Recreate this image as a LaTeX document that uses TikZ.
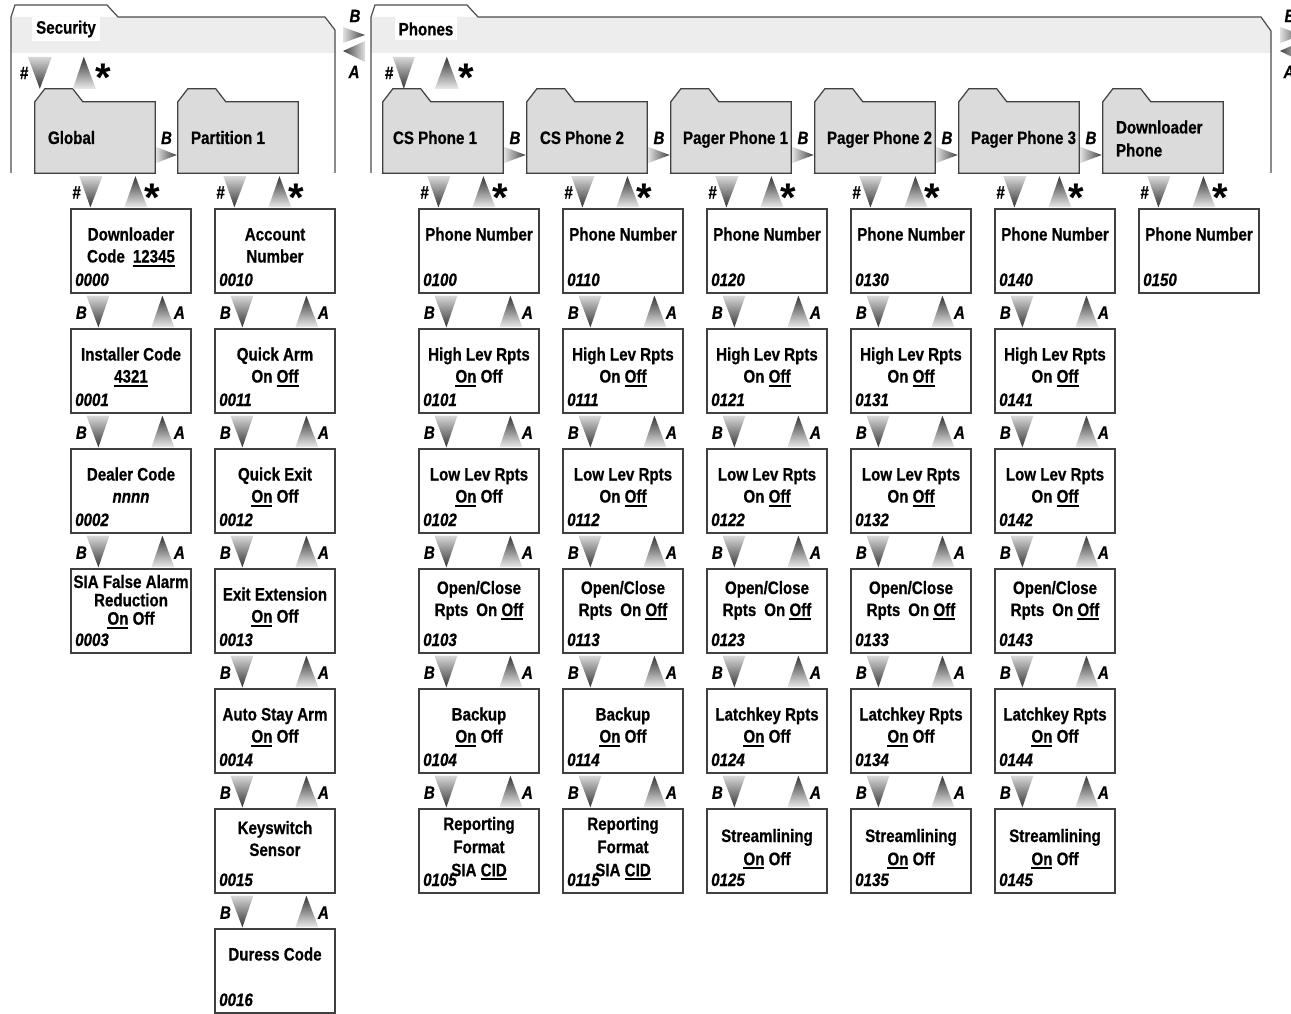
\documentclass[tikz,border=0pt]{standalone}
\usepackage{fontspec}
\setmainfont{Liberation Sans}[FakeStretch=0.84, FakeBold=0.6]
\newfontfamily\starfont{Liberation Sans}
\usetikzlibrary{calc}

% selected value, underlined
\newcommand{\sel}[1]{\setbox0=\hbox{#1}\rlap{\rule[-4pt]{\wd0}{1.8pt}}\box0\relax}
\newcommand{\gap}{\hspace{8pt}}

% menu box: name, left x, top y, first baseline, line stretch, lines, code
\newcommand{\menubox}[7]{%
  \node[menubox] (#1) at (#2+60,#3+42) {};
  \node[boxtext] (#1-t) at (#2+60,#3+#4) {\renewcommand{\arraystretch}{#5}\begin{tabular}[t]{@{}c@{}}#6\end{tabular}};
  \node[codetext] (#1-c) at (#2+4,#3+77) {#7};
}

% folder: name, left x
\newcommand{\folder}[2]{%
  \node[folderbody] (#1) at (#2+60,137.5) {};
  \filldraw[folderline] (#1.south west) -- (#1.north west) -- ++(10,-13) -- ++(28,0) -- ++(10,13) -- (#1.north east) -- (#1.south east) -- cycle;
}

% B down / A up between two stacked boxes
\newcommand{\linkBA}[2]{%
  \shade[downfill] ($(#1.south west)+(16,2)$) -- ($(#1.south west)+(39,2)$) -- ($(#2.north west)+(28,-1)$) -- cycle;
  \shade[upfill] ($(#2.north west)+(81,-1)$) -- ($(#2.north west)+(104,-1)$) -- ($(#1.south west)+(92,2)$) -- cycle;
  \node[arrlabel] (#1-B) at ($(#1.south west)+(11,19)$) {B};
  \node[arrlabel] (#1-A) at ($(#1.south west)+(109,19)$) {A};
}

% # down / * up between folder and its first box
\newcommand{\linkHS}[2]{%
  \shade[downfill] ($(#2.north west |- #1.south)+(9,3)$) -- ($(#2.north west |- #1.south)+(32,3)$) -- ($(#2.north west)+(20,-1)$) -- cycle;
  \shade[upfill] ($(#2.north west)+(54,-1)$) -- ($(#2.north west)+(77,-1)$) -- ($(#2.north west |- #1.south)+(65,3)$) -- cycle;
  \node[arrlabel] (#2-h) at ($(#2.north west)+(6,-16)$) {\#};
  \node[starlabel] (#2-s) at ($(#2.north west)+(82,3)$) {*};
}

% B to the next folder
\newcommand{\linkB}[2]{%
  \shade[rightfill] ($(#1.east)+(1,9.5)$) -- ($(#1.east)+(1,25.5)$) -- ($(#2.west)+(-1,17.5)$) -- cycle;
  \node[arrlabel] (#1-B) at ($(#1.east)!0.5!(#2.west)+(0,0.5)$) {B};
}

\begin{document}
\begin{tikzpicture}[x=1pt, y=-1pt,
  menubox/.style={draw=black!75, line width=1.2pt, minimum width=120pt, minimum height=84pt, inner sep=0pt},
  boxtext/.style={font=\fontsize{18}{22}\selectfont\bfseries, text=black, inner sep=0pt, anchor=base},
  codetext/.style={font=\fontsize{18}{22}\selectfont\bfseries\itshape, text=black, inner sep=0pt, anchor=base west},
  arrlabel/.style={font=\fontsize{18}{20}\selectfont\bfseries\itshape, text=black, inner sep=0pt},
  starlabel/.style={font=\starfont\fontsize{40}{40}\selectfont\bfseries, text=black, inner sep=0pt, anchor=base},
  downfill/.style={top color=black!15, bottom color=black!80},
  upfill/.style={top color=black!80, bottom color=black!8},
  rightfill/.style={left color=black!12, right color=black!75},
  leftfill/.style={left color=black!75, right color=black!12},
  folderbody/.style={minimum width=120pt, minimum height=71pt, inner sep=0pt},
  folderline/.style={draw=black!75, line width=1.2pt, fill=black!14},
  foldertext/.style={font=\fontsize{18}{23}\selectfont\bfseries, text=black, inner sep=0pt, anchor=base west},
  panelline/.style={draw=black!70, line width=1.2pt},
  bandfill/.style={fill=black!7},
  paneltext/.style={font=\fontsize{18}{22}\selectfont\bfseries, text=black, fill=white, inner xsep=4pt, minimum height=23pt}]

  \path[use as bounding box, fill=white] (0,0) rectangle (1291,1014);

  % Security panel
  \fill[bandfill] (11,17) -- (325,17) -- (335,30) -- (335,53) -- (11,53) -- cycle;
  \draw[panelline] (11,173) -- (11,17) -- (15,5) -- (107,5) -- (118,17) -- (325,17) -- (335,30) -- (335,173);
  \node[paneltext] (sec) at (66,29) {Security};

  % Phones panel
  \fill[bandfill] (371,17) -- (1261,17) -- (1271,31) -- (1271,53) -- (371,53) -- cycle;
  \draw[panelline] (371,173) -- (371,17) -- (375,5) -- (467,5) -- (478,17) -- (1261,17) -- (1271,31) -- (1271,173);
  \node[paneltext] (pho) at (426,29) {Phones};

  % B / A between panels
  \shade[rightfill] (343,27) -- (365,35) -- (343,43) -- cycle;
  \shade[leftfill] (365,41) -- (343,51) -- (365,62) -- cycle;
  \node[arrlabel] (secB) at (355,16) {B};
  \node[arrlabel] (secA) at (354,72) {A};
  \shade[rightfill] (1280,27) -- (1302,35) -- (1280,43) -- cycle;
  \shade[leftfill] (1302,41) -- (1280,51) -- (1302,62) -- cycle;
  \node[arrlabel] (phoB) at (1290,16) {B};
  \node[arrlabel] (phoA) at (1289,72) {A};

  % Folders
  \folder{glob}{35}
  \folder{part}{178}
  \folder{cs1}{383}
  \folder{cs2}{527}
  \folder{pg1}{671}
  \folder{pg2}{815}
  \folder{pg3}{959}
  \folder{dlp}{1103}
  \node[foldertext] (glob-t) at ($(glob.west)+(13,6.5)$) {Global};
  \node[foldertext] (part-t) at ($(part.west)+(13,6.5)$) {Partition 1};
  \node[foldertext] (cs1-t) at ($(cs1.west)+(10,6.5)$) {CS Phone 1};
  \node[foldertext] (cs2-t) at ($(cs2.west)+(13,6.5)$) {CS Phone 2};
  \node[foldertext] (pg1-t) at ($(pg1.west)+(12,6.5)$) {Pager Phone 1};
  \node[foldertext] (pg2-t) at ($(pg2.west)+(12,6.5)$) {Pager Phone 2};
  \node[foldertext] (pg3-t) at ($(pg3.west)+(12,6.5)$) {Pager Phone 3};
  \node[foldertext] (dlp-t) at ($(dlp.west)+(13,-4)$) {\begin{tabular}[t]{@{}l@{}}Downloader\\Phone\end{tabular}};

  % # and * from the panel bands
  \shade[downfill] ($(glob.north west)+(-7,-45)$) -- ($(glob.north west)+(17,-45)$) -- ($(glob.north west)+(5,-13)$) -- cycle;
  \shade[upfill] ($(glob.north west)+(38,-13)$) -- ($(glob.north west)+(61,-13)$) -- ($(glob.north west)+(49,-45)$) -- cycle;
  \node[arrlabel] (sec-h) at (24,73) {\#};
  \node[starlabel] (sec-s) at (103,92) {*};
  \shade[downfill] ($(cs1.north west)+(10,-45)$) -- ($(cs1.north west)+(32,-45)$) -- ($(cs1.north west)+(21,-13)$) -- cycle;
  \shade[upfill] ($(cs1.north west)+(52,-13)$) -- ($(cs1.north west)+(76,-13)$) -- ($(cs1.north west)+(64,-45)$) -- cycle;
  \node[arrlabel] (pho-h) at (389,73) {\#};
  \node[starlabel] (pho-s) at (466,92) {*};

  % Global
  \menubox{dlcode}{71}{209}{31.5}{1}{Downloader\\Code\gap\sel{12345}}{0000}
  \menubox{inst}{71}{329}{31.5}{1}{Installer Code\\\sel{4321}}{0001}
  \menubox{dealer}{71}{449}{31.5}{1}{Dealer Code\\\textit{nnnn}}{0002}
  \menubox{sia}{71}{569}{19}{0.8}{SIA False Alarm\\Reduction\\\sel{On} Off}{0003}

  % Partition 1
  \menubox{acct}{215}{209}{31.5}{1}{Account\\Number}{0010}
  \menubox{qarm}{215}{329}{31.5}{1}{Quick Arm\\On \sel{Off}}{0011}
  \menubox{qexit}{215}{449}{31.5}{1}{Quick Exit\\\sel{On} Off}{0012}
  \menubox{exitx}{215}{569}{31.5}{1}{Exit Extension\\\sel{On} Off}{0013}
  \menubox{stay}{215}{689}{31.5}{1}{Auto Stay Arm\\\sel{On} Off}{0014}
  \menubox{keysw}{215}{809}{25}{1}{Keyswitch\\Sensor}{0015}
  \menubox{duress}{215}{929}{31.5}{1}{Duress Code}{0016}

  % CS Phone 1
  \menubox{cs1num}{419}{209}{31.5}{1}{Phone Number}{0100}
  \menubox{cs1high}{419}{329}{31.5}{1}{High Lev Rpts\\\sel{On} Off}{0101}
  \menubox{cs1low}{419}{449}{31.5}{1}{Low Lev Rpts\\\sel{On} Off}{0102}
  \menubox{cs1oc}{419}{569}{25}{1}{Open/Close\\Rpts\gap On \sel{Off}}{0103}
  \menubox{cs1bak}{419}{689}{31.5}{1}{Backup\\\sel{On} Off}{0104}
  \menubox{cs1fmt}{419}{809}{21}{1.05}{Reporting\\Format\\SIA \sel{CID}}{0105}

  % CS Phone 2
  \menubox{cs2num}{563}{209}{31.5}{1}{Phone Number}{0110}
  \menubox{cs2high}{563}{329}{31.5}{1}{High Lev Rpts\\On \sel{Off}}{0111}
  \menubox{cs2low}{563}{449}{31.5}{1}{Low Lev Rpts\\On \sel{Off}}{0112}
  \menubox{cs2oc}{563}{569}{25}{1}{Open/Close\\Rpts\gap On \sel{Off}}{0113}
  \menubox{cs2bak}{563}{689}{31.5}{1}{Backup\\\sel{On} Off}{0114}
  \menubox{cs2fmt}{563}{809}{21}{1.05}{Reporting\\Format\\SIA \sel{CID}}{0115}

  % Pager Phone 1
  \menubox{pg1num}{707}{209}{31.5}{1}{Phone Number}{0120}
  \menubox{pg1high}{707}{329}{31.5}{1}{High Lev Rpts\\On \sel{Off}}{0121}
  \menubox{pg1low}{707}{449}{31.5}{1}{Low Lev Rpts\\On \sel{Off}}{0122}
  \menubox{pg1oc}{707}{569}{25}{1}{Open/Close\\Rpts\gap On \sel{Off}}{0123}
  \menubox{pg1latch}{707}{689}{31.5}{1}{Latchkey Rpts\\\sel{On} Off}{0124}
  \menubox{pg1strm}{707}{809}{33}{1.05}{Streamlining\\\sel{On} Off}{0125}

  % Pager Phone 2
  \menubox{pg2num}{851}{209}{31.5}{1}{Phone Number}{0130}
  \menubox{pg2high}{851}{329}{31.5}{1}{High Lev Rpts\\On \sel{Off}}{0131}
  \menubox{pg2low}{851}{449}{31.5}{1}{Low Lev Rpts\\On \sel{Off}}{0132}
  \menubox{pg2oc}{851}{569}{25}{1}{Open/Close\\Rpts\gap On \sel{Off}}{0133}
  \menubox{pg2latch}{851}{689}{31.5}{1}{Latchkey Rpts\\\sel{On} Off}{0134}
  \menubox{pg2strm}{851}{809}{33}{1.05}{Streamlining\\\sel{On} Off}{0135}

  % Pager Phone 3
  \menubox{pg3num}{995}{209}{31.5}{1}{Phone Number}{0140}
  \menubox{pg3high}{995}{329}{31.5}{1}{High Lev Rpts\\On \sel{Off}}{0141}
  \menubox{pg3low}{995}{449}{31.5}{1}{Low Lev Rpts\\On \sel{Off}}{0142}
  \menubox{pg3oc}{995}{569}{25}{1}{Open/Close\\Rpts\gap On \sel{Off}}{0143}
  \menubox{pg3latch}{995}{689}{31.5}{1}{Latchkey Rpts\\\sel{On} Off}{0144}
  \menubox{pg3strm}{995}{809}{33}{1.05}{Streamlining\\\sel{On} Off}{0145}

  % Downloader Phone
  \menubox{dlnum}{1139}{209}{31.5}{1}{Phone Number}{0150}

  % folder links
  \linkB{glob}{part}
  \linkB{cs1}{cs2}
  \linkB{cs2}{pg1}
  \linkB{pg1}{pg2}
  \linkB{pg2}{pg3}
  \linkB{pg3}{dlp}
  \foreach \f/\b in {glob/dlcode, part/acct, cs1/cs1num, cs2/cs2num, pg1/pg1num, pg2/pg2num, pg3/pg3num, dlp/dlnum}
    {\linkHS{\f}{\b}}

  % B / A links down each column
  \foreach \u/\l in {dlcode/inst, inst/dealer, dealer/sia,
      acct/qarm, qarm/qexit, qexit/exitx, exitx/stay, stay/keysw, keysw/duress,
      cs1num/cs1high, cs1high/cs1low, cs1low/cs1oc, cs1oc/cs1bak, cs1bak/cs1fmt,
      cs2num/cs2high, cs2high/cs2low, cs2low/cs2oc, cs2oc/cs2bak, cs2bak/cs2fmt,
      pg1num/pg1high, pg1high/pg1low, pg1low/pg1oc, pg1oc/pg1latch, pg1latch/pg1strm,
      pg2num/pg2high, pg2high/pg2low, pg2low/pg2oc, pg2oc/pg2latch, pg2latch/pg2strm,
      pg3num/pg3high, pg3high/pg3low, pg3low/pg3oc, pg3oc/pg3latch, pg3latch/pg3strm}
    {\linkBA{\u}{\l}}
\end{tikzpicture}
\end{document}
